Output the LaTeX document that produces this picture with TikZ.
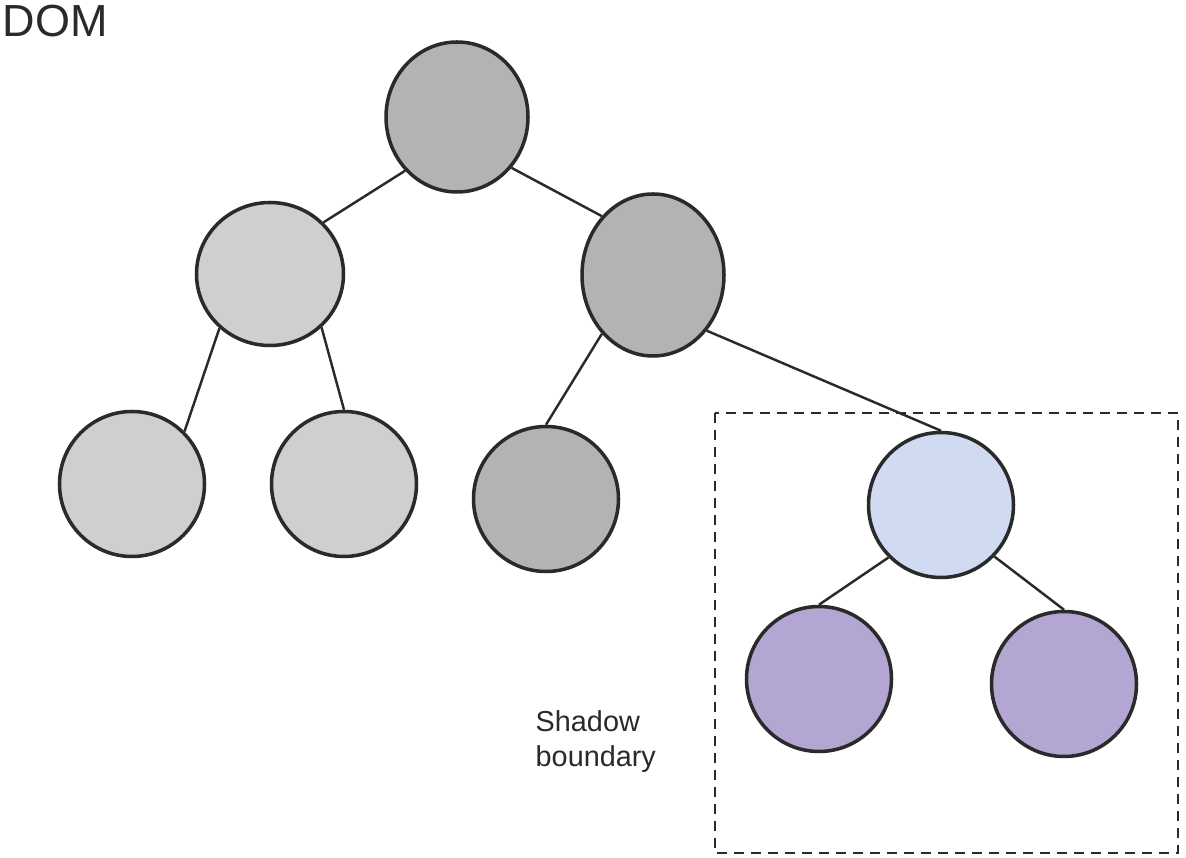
\documentclass[tikz,border=0pt]{standalone}
\usepackage{fontspec}
\setmainfont{Liberation Sans}
\usepackage{tikz}
\usetikzlibrary{shapes}
\definecolor{darkgrey}{HTML}{B3B3B3}
\definecolor{lightgrey}{HTML}{CFCFCF}
\definecolor{hostblue}{HTML}{D0DBF1}
\definecolor{shadowpurple}{HTML}{B4A6D3}
\definecolor{outline}{HTML}{2A2A2A}

\begin{document}
\begin{tikzpicture}[
    elem/.style={ellipse, draw=outline, line width=1pt, inner sep=0pt,
                 minimum width=1.45cm, minimum height=1.45cm},
    edge/.style={draw=outline, line width=0.7pt},
    boundary/.style={draw=outline, line width=0.7pt, dash pattern=on 0.1cm off 0.07cm}]
  \useasboundingbox (0,0) rectangle (11.86,-8.58);
  \node[anchor=base west, inner sep=0pt, text=outline] (dom) at (0.02,-0.37)
    {\fontsize{12.8}{15}\selectfont DOM};
  \node[elem, fill=darkgrey, minimum height=1.5cm, minimum width=1.42cm] (root) at (4.57,-1.17) {};
  \node[elem, fill=lightgrey, minimum width=1.47cm, minimum height=1.43cm] (left) at (2.70,-2.74) {};
  \node[elem, fill=darkgrey, minimum width=1.42cm, minimum height=1.62cm] (right) at (6.53,-2.75) {};
  \node[elem, fill=lightgrey] (leafa) at (1.32,-4.84) {};
  \node[elem, fill=lightgrey] (leafb) at (3.44,-4.84) {};
  \node[elem, fill=darkgrey] (leafc) at (5.46,-4.99) {};
  \node[elem, fill=hostblue] (host) at (9.41,-5.05) {};
  \node[elem, fill=shadowpurple] (shada) at (8.19,-6.79) {};
  \node[elem, fill=shadowpurple] (shadb) at (10.64,-6.84) {};
  \draw[boundary] (7.15,-4.13) rectangle (11.78,-8.53);
  \node[anchor=north west, inner sep=0pt, align=left, text=outline,
        font=\fontsize{8.2}{10}\selectfont] (label) at (5.35,-7.10) {Shadow\\boundary};
  \draw[edge] (root.-134) -- (left.44);
  \draw[edge] (root.-43) -- (right.131);
  \draw[edge] (left.-133) -- (leafa.45);
  \draw[edge] (left.-46) -- (leafb.north);
  \draw[edge] (right.-131) -- (leafc.north);
  \draw[edge] (right.-46) -- (host.north);
  \draw[edge] (host.-135) -- (shada.north);
  \draw[edge] (host.-44) -- (shadb.north);
\end{tikzpicture}
\end{document}
